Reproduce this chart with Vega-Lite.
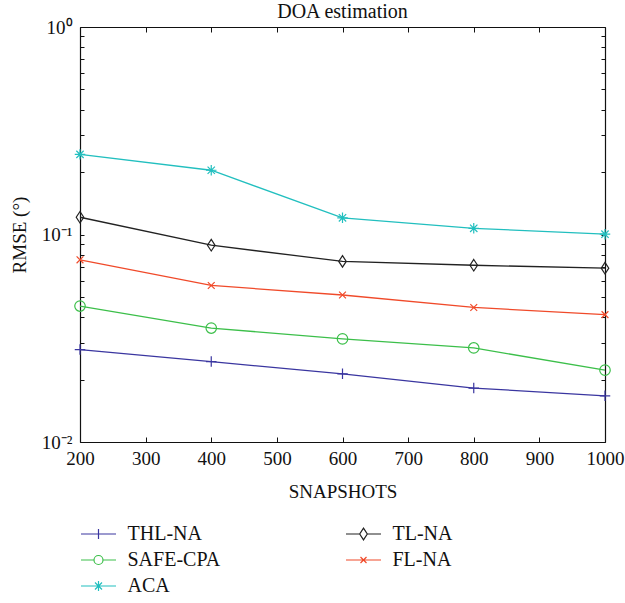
{
  "$schema": "https://vega.github.io/schema/vega-lite/v6.json",
  "width": 525,
  "height": 415,
  "autosize": "none",
  "padding": {"left": 80, "top": 27, "right": 20, "bottom": 161},
  "background": "white",
  "title": {"text": "DOA estimation", "font": "Liberation Serif", "fontSize": 20, "fontWeight": "normal", "color": "#111", "offset": -4, "anchor": "middle"},
  "config": {
    "view": {"stroke": null},
    "font": "Liberation Serif",
    "axis": {"labelFont": "Liberation Serif", "titleFont": "Liberation Serif", "labelFontSize": 19, "titleFontSize": 19, "titleFontWeight": "normal", "labelColor": "#111", "titleColor": "#111", "domainColor": "#111", "tickColor": "#111", "grid": false, "domainWidth": 1.2, "tickWidth": 1},
    "legend": {"labelFont": "Liberation Serif"}
  },
  "data": {"values": [
    {"snap": 200, "rmse": 0.0279, "method": "THL-NA"},
    {"snap": 400, "rmse": 0.0244, "method": "THL-NA"},
    {"snap": 600, "rmse": 0.0213, "method": "THL-NA"},
    {"snap": 800, "rmse": 0.0182, "method": "THL-NA"},
    {"snap": 1000, "rmse": 0.0167, "method": "THL-NA"},
    {"snap": 200, "rmse": 0.0452, "method": "SAFE-CPA"},
    {"snap": 400, "rmse": 0.0354, "method": "SAFE-CPA"},
    {"snap": 600, "rmse": 0.0314, "method": "SAFE-CPA"},
    {"snap": 800, "rmse": 0.0284, "method": "SAFE-CPA"},
    {"snap": 1000, "rmse": 0.0222, "method": "SAFE-CPA"},
    {"snap": 200, "rmse": 0.2433, "method": "ACA"},
    {"snap": 400, "rmse": 0.2040, "method": "ACA"},
    {"snap": 600, "rmse": 0.1203, "method": "ACA"},
    {"snap": 800, "rmse": 0.1071, "method": "ACA"},
    {"snap": 1000, "rmse": 0.1004, "method": "ACA"},
    {"snap": 200, "rmse": 0.1211, "method": "TL-NA"},
    {"snap": 400, "rmse": 0.0888, "method": "TL-NA"},
    {"snap": 600, "rmse": 0.0742, "method": "TL-NA"},
    {"snap": 800, "rmse": 0.0711, "method": "TL-NA"},
    {"snap": 1000, "rmse": 0.0688, "method": "TL-NA"},
    {"snap": 200, "rmse": 0.0755, "method": "FL-NA"},
    {"snap": 400, "rmse": 0.0568, "method": "FL-NA"},
    {"snap": 600, "rmse": 0.0511, "method": "FL-NA"},
    {"snap": 800, "rmse": 0.0445, "method": "FL-NA"},
    {"snap": 1000, "rmse": 0.0411, "method": "FL-NA"}
  ]},
  "resolve": {"axis": {"x": "independent", "y": "independent"}, "legend": {"color": "independent", "shape": "independent"}},
  "layer": [
    {
      "mark": {"type": "line", "strokeWidth": 1.3},
      "encoding": {
        "x": {"field": "snap", "type": "quantitative", "scale": {"domain": [200, 1000], "nice": false, "zero": false},
          "axis": {"title": "SNAPSHOTS", "format": "d", "labelFont": "Liberation Serif", "titleFont": "Liberation Serif", "values": [200, 300, 400, 500, 600, 700, 800, 900, 1000], "tickSize": -5, "labelPadding": 12, "titlePadding": 14, "labelFlush": false}},
        "y": {"field": "rmse", "type": "quantitative", "scale": {"type": "log", "domain": [0.01, 1], "nice": false},
          "axis": {"title": "RMSE (°)", "labelFont": "Liberation Serif", "titleFont": "Liberation Serif", "values": [0.01, 0.02, 0.03, 0.04, 0.05, 0.06, 0.07, 0.08, 0.09, 0.1, 0.2, 0.3, 0.4, 0.5, 0.6, 0.7, 0.8, 0.9, 1],
            "labelExpr": "datum.value == 1 ? '10⁰' : (abs(datum.value - 0.1) < 1e-9 ? '10⁻¹' : (abs(datum.value - 0.01) < 1e-9 ? '10⁻²' : ''))",
            "tickSize": -4, "labelPadding": 12, "titlePadding": 12}},
        "color": {"field": "method", "type": "nominal",
          "scale": {"domain": ["THL-NA", "SAFE-CPA", "ACA", "TL-NA", "FL-NA"], "range": ["#3a36a0", "#3cbf4a", "#22bfbf", "#222222", "#f04a2a"]},
          "legend": {"title": null, "orient": "none", "legendX": 7.5, "legendY": 496, "columns": 2, "direction": "vertical",
            "labelFont": "Liberation Serif", "labelFontSize": 20, "labelColor": "#111", "labelOffset": 18, "columnPadding": 123, "rowPadding": 5, "symbolSize": 400, "symbolStrokeWidth": 1.2, "padding": 0,
            "encode": {"symbols": {"update": {"shape": {"signal": "datum.value == 'THL-NA' ? 'M-1.75,0H1.75M0,-0.5V0.5' : datum.value == 'SAFE-CPA' ? 'M-1.75,0H-0.45M0.45,0H1.75M0.45,0A0.45,0.45 0 1,1 -0.45,0A0.45,0.45 0 1,1 0.45,0' : datum.value == 'ACA' ? 'M-1.75,0H1.75M0,-0.5V0.5M-0.35,-0.35L0.35,0.35M-0.35,0.35L0.35,-0.35' : datum.value == 'TL-NA' ? 'M-1.75,0H-0.38M0.38,0H1.75M0,-0.58L0.38,0L0,0.58L-0.38,0Z' : 'M-1.75,0H1.75M-0.3,-0.3L0.3,0.3M-0.3,0.3L0.3,-0.3'"}, "fill": {"value": "transparent"}}}}}},
        "detail": {"field": "method"}
      }
    },
    {
      "mark": {"type": "point", "filled": false, "strokeWidth": 1.2, "size": 110, "opacity": 1},
      "encoding": {
        "x": {"field": "snap", "type": "quantitative", "axis": {"orient": "top", "title": null, "labels": false, "values": [200, 300, 400, 500, 600, 700, 800, 900, 1000], "tickSize": -5}},
        "y": {"field": "rmse", "type": "quantitative", "axis": {"orient": "right", "title": null, "labels": false, "values": [0.01, 0.02, 0.03, 0.04, 0.05, 0.06, 0.07, 0.08, 0.09, 0.1, 0.2, 0.3, 0.4, 0.5, 0.6, 0.7, 0.8, 0.9, 1], "tickSize": -4}},
        "color": {"field": "method", "type": "nominal", "legend": null},
        "shape": {"field": "method", "type": "nominal", "legend": null,
          "scale": {"domain": ["THL-NA", "SAFE-CPA", "ACA", "TL-NA", "FL-NA"],
            "range": ["M-1,0H1M0,-1V1", "circle", "M-1,0H1M0,-1V1M-0.7,-0.7L0.7,0.7M-0.7,0.7L0.7,-0.7", "M0,-1.1L0.72,0L0,1.1L-0.72,0Z", "M-0.65,-0.65L0.65,0.65M-0.65,0.65L0.65,-0.65"]}}
      }
    }
  ]
}
